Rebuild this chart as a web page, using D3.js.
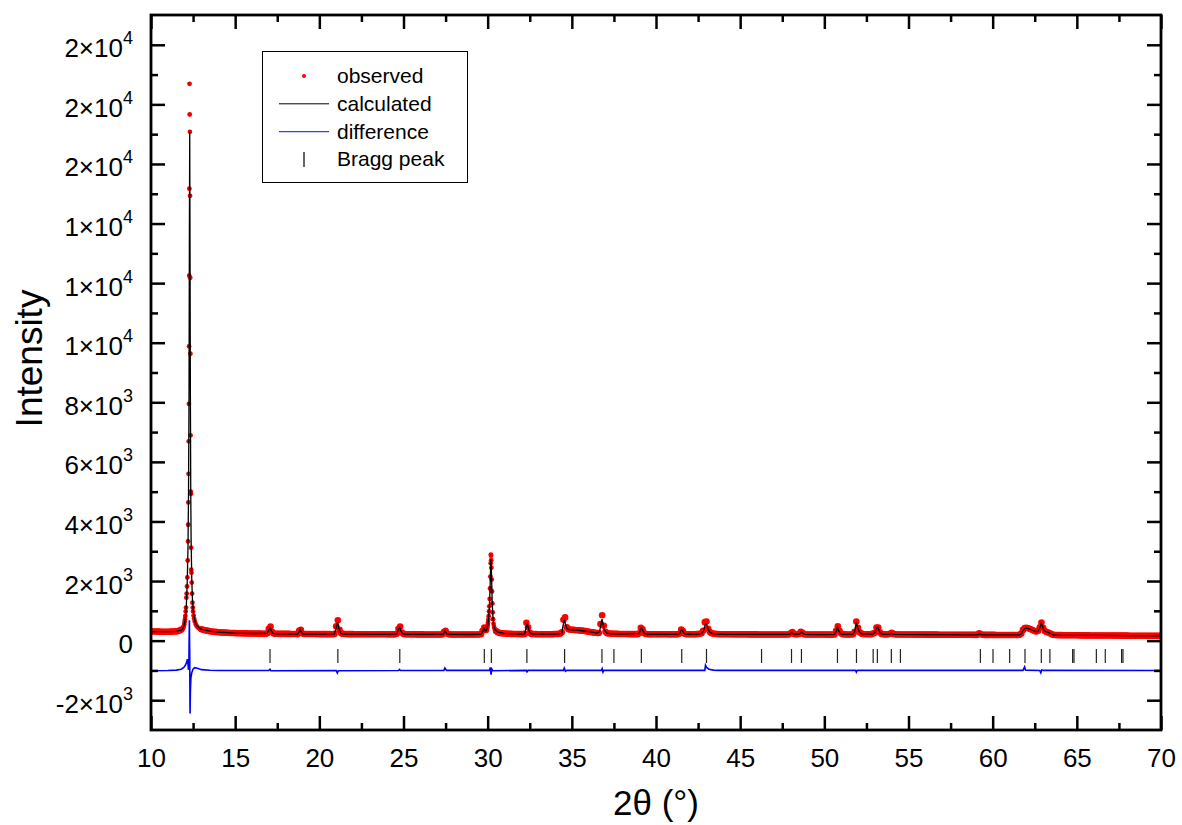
<!DOCTYPE html>
<html><head><meta charset="utf-8">
<script src="https://cdn.jsdelivr.net/npm/d3@7"></script>
<style>
body{margin:0;background:#fff}
svg{display:block}
text{font-family:"Liberation Sans",Arial,sans-serif;fill:#000}
</style>
</head><body>
<svg id="chart" width="1182" height="825"></svg>
<script>
// ---------- data ----------
const xDomain = [10, 70];
const yDomain = [-3000, 21000];
const xTicks = [10, 15, 20, 25, 30, 35, 40, 45, 50, 55, 60, 65, 70];
const xMinorTicks = [12.5, 17.5, 22.5, 27.5, 32.5, 37.5, 42.5, 47.5, 52.5, 57.5, 62.5, 67.5];
const yTicks = [-2000, 0, 2000, 4000, 6000, 8000, 10000, 12000, 14000, 16000, 18000, 20000];
const yMinorTicks = [-1000, 1000, 3000, 5000, 7000, 9000, 11000, 13000, 15000, 17000, 19000];
const yTickLabels = ["-2×10|3", "0", "2×10|3", "4×10|3", "6×10|3", "8×10|3",
  "1×10|4", "1×10|4", "1×10|4", "2×10|4", "2×10|4", "2×10|4"];
const xTitle = "2θ (°)";
const yTitle = "Intensity";
const seriesNames = ["observed", "calculated", "difference", "Bragg peak"];

// observed scan, 0.1° steps from 10.0° to 70.0°
const observedStart = 10, observedStep = 0.1;
const observed = [
 310,308,306,305,303,302,300,300,299,298,
 298,300,302,305,308,312,320,338,370,420,
 640,1440,3330,17660,2280,980,650,500,430,395,
 380,365,350,338,326,316,307,300,293,287,
 282,278,274,270,267,264,261,258,256,254,
 252,250,248,246,245,244,243,242,241,240,
 239,238,237,236,235,234,233,232,232,245,
 400,470,285,235,230,229,228,228,227,226,
 226,225,225,224,224,223,222,215,330,360,
 240,222,222,221,221,220,220,220,219,219,
 219,218,218,218,217,217,217,216,216,225,
 480,680,360,250,225,220,219,218,218,217,
 217,216,216,216,215,215,215,215,214,214,
 214,214,213,213,213,213,212,212,212,212,
 211,211,211,211,211,211,230,400,470,270,
 225,212,211,210,210,210,210,210,209,209,
 209,209,208,208,208,208,208,207,207,207,
 207,207,207,206,290,330,240,210,206,206,
 206,206,206,205,205,205,205,205,205,205,
 205,205,206,207,208,210,215,330,440,360,
 520,1150,2850,950,420,320,280,260,250,245,
 240,236,232,229,226,224,222,221,220,219,
 218,218,225,600,450,260,225,220,218,217,
 216,216,216,215,215,215,215,215,216,218,
 220,222,225,230,280,700,780,450,380,370,
 365,360,355,350,345,340,335,330,320,310,
 300,290,280,270,262,255,255,560,850,500,
 300,250,240,236,233,230,228,226,224,223,
 222,221,220,219,219,218,218,217,217,216,
 245,430,380,245,220,216,215,215,214,214,
 214,213,213,213,212,212,212,212,211,211,
 211,211,211,212,240,370,320,230,215,213,
 213,213,214,215,217,220,230,250,330,620,
 640,400,290,250,235,225,220,218,216,215,
 214,213,213,212,212,212,211,211,211,210,
 210,210,210,210,210,209,209,209,209,209,
 209,208,208,208,208,208,208,207,207,207,
 207,207,206,206,206,206,206,206,205,210,
 250,285,225,210,210,225,300,260,215,208,
 206,205,205,205,205,204,204,204,204,204,
 204,203,203,203,203,203,206,330,480,330,
 240,215,210,208,207,207,208,215,300,640,
 430,280,235,220,215,212,212,213,218,235,
 265,440,440,280,225,212,210,209,212,230,
 265,225,210,207,207,206,206,205,205,205,
 204,204,204,203,203,203,203,202,202,202,
 202,201,201,201,200,200,200,200,199,199,
 199,199,198,198,198,198,197,197,197,197,
 196,196,196,196,195,195,195,195,194,194,
 194,194,245,215,195,194,193,193,193,192,
 192,192,191,191,191,191,190,190,190,190,
 190,190,190,189,189,189,195,240,360,420,
 430,415,395,370,345,320,305,330,450,610,
 430,320,290,275,250,215,195,188,186,185,
 184,183,182,181,181,180,180,179,179,178,
 178,177,177,176,176,175,175,175,174,174,
 173,173,173,172,172,172,171,171,171,170,
 170,170,169,169,169,168,168,168,167,167,
 167,166,166,166,165,165,165,165,164,164,
 164,163,163,163,162,162,162,162,161,161,
 161
];

// finer observed points across the two strongest reflections [2θ, intensity]
const observedFine = [
 [11.84,380],[11.86,390],[11.88,405],[11.90,420],[11.92,445],[11.94,470],[11.96,505],[11.98,560],
 [12.00,640],[12.02,720],[12.04,830],[12.06,980],[12.08,1110],[12.10,1440],[12.12,1580],[12.14,1820],
 [12.16,2120],[12.18,2690],[12.20,3330],[12.21,3890],[12.22,4640],[12.23,5600],[12.24,6690],[12.25,7950],
 [12.26,9880],[12.27,12250],[12.28,15170],[12.29,18690],[12.30,17660],[12.31,17080],[12.32,14930],
 [12.33,12180],[12.34,9630],[12.35,6890],[12.36,5000],[12.37,4930],[12.38,3120],[12.39,2380],
 [12.40,2280],[12.42,1950],[12.44,1580],[12.46,1275],[12.48,1110],[12.50,980],[12.53,840],[12.56,740],
 [12.60,650],[12.65,560],[12.70,500],[12.76,455],[12.82,420],[12.90,395],
 [29.96,400],[29.98,450],[30.00,520],[30.02,600],[30.04,700],[30.06,820],[30.08,980],[30.10,1150],
 [30.12,1400],[30.14,1750],[30.16,2150],[30.18,2600],[30.19,2890],[30.20,2850],[30.21,2700],
 [30.22,2450],[30.24,2050],[30.26,1650],[30.28,1250],[30.30,950],[30.32,720],[30.35,560],
 [30.38,460],[30.42,390],[30.46,340]
];
const fineWindows = [[11.84, 12.90], [29.96, 30.46]];

// calculated profile [2θ, intensity]
const calculated = [
 [10.0,305],[11.0,300],[11.5,312],[11.8,355],[11.9,400],[12.0,600],[12.05,800],[12.1,1200],
 [12.15,1900],[12.2,3200],[12.23,5000],[12.26,8500],[12.28,13500],[12.30,17080],[12.32,13000],
 [12.34,8200],[12.36,5200],[12.38,3500],[12.42,2100],[12.46,1400],[12.52,950],[12.6,680],
 [12.7,520],[12.85,430],[13.0,380],[13.5,318],[14.0,282],[15.0,252],[16.0,239],[16.9,240],
 [17.0,360],[17.07,430],[17.15,330],[17.25,245],[17.4,230],[18.0,226],[18.6,220],[18.7,212],
 [18.8,300],[18.85,380],[18.92,300],[19.0,230],[19.1,222],[20.0,219],[20.9,225],[21.0,430],
 [21.09,615],[21.17,400],[21.27,245],[21.4,220],[22.0,217],[24.0,211],[24.6,225],[24.7,380],
 [24.77,440],[24.85,320],[24.95,230],[25.1,212],[27.0,207],[27.35,215],[27.46,320],[27.56,230],
 [27.7,208],[29.0,205],[29.6,215],[29.7,300],[29.78,420],[29.86,330],[29.9,320],[29.95,380],
 [30.0,500],[30.05,680],[30.1,1100],[30.15,1900],[30.19,2720],[30.23,2200],[30.27,1300],
 [30.31,800],[30.36,500],[30.45,350],[30.6,285],[31.0,240],[32.0,218],[32.2,225],[32.3,480],
 [32.35,560],[32.42,420],[32.5,270],[32.6,230],[33.0,216],[34.0,220],[34.4,240],[34.48,500],
 [34.55,700],[34.62,560],[34.7,420],[34.8,370],[35.0,362],[35.5,340],[36.0,300],[36.5,255],
 [36.65,300],[36.73,550],[36.79,720],[36.85,560],[36.92,380],[37.05,260],[37.3,228],[38.0,222],
 [39.0,240],[39.08,380],[39.13,420],[39.2,360],[39.3,240],[39.45,217],[40.0,214],[41.0,211],
 [41.4,230],[41.48,340],[41.53,360],[41.6,300],[41.7,228],[41.85,214],[42.5,222],[42.7,245],
 [42.8,300],[42.88,450],[42.95,560],[43.02,520],[43.1,380],[43.2,280],[43.35,236],[43.6,220],
 [44.0,214],[46.0,209],[47.9,207],[48.0,240],[48.05,270],[48.12,240],[48.2,215],[48.5,212],
 [48.58,250],[48.64,285],[48.72,245],[48.85,210],[50.0,204],[50.6,208],[50.7,300],[50.78,450],
 [50.86,320],[50.95,230],[51.1,212],[51.7,215],[51.8,300],[51.9,600],[51.98,440],[52.08,290],
 [52.2,230],[52.8,217],[52.9,230],[53.0,270],[53.08,400],[53.15,450],[53.22,380],[53.32,250],
 [53.5,212],[53.9,215],[53.98,255],[54.06,220],[54.2,207],[56.0,201],[59.0,194],[59.15,205],
 [59.22,240],[59.3,205],[59.45,194],[61.0,190],[61.6,196],[61.7,230],[61.8,330],[61.9,400],
 [62.0,420],[62.2,390],[62.4,340],[62.6,300],[62.7,320],[62.8,420],[62.89,590],[62.96,470],
 [63.05,340],[63.2,290],[63.33,270],[63.45,230],[63.6,195],[64.0,184],[66.0,173],[68.0,167],
 [70.0,161]
];

// difference curve (observed - calculated, offset) [2θ, intensity]
const difference = [
 [10.0,-1010],[11.0,-1005],[11.5,-990],[11.8,-960],[11.95,-900],[12.05,-820],[12.12,-720],
 [12.16,-620],[12.19,-700],[12.22,-980],[12.25,-850],[12.28,680],[12.30,-600],[12.32,-2450],
 [12.34,-1700],[12.37,-1250],[12.42,-1080],[12.5,-950],[12.6,-910],[12.75,-930],[13.0,-975],
 [13.5,-995],[14.0,-1005],[17.0,-1000],[17.07,-960],[17.12,-1010],[21.0,-1005],[21.07,-1085],
 [21.12,-1010],[24.7,-1005],[24.76,-965],[24.82,-1005],[27.4,-1000],[27.46,-920],[27.55,-1000],
 [30.1,-1000],[30.16,-900],[30.2,-1140],[30.25,-960],[30.3,-1010],[32.3,-1000],[32.34,-1050],
 [32.4,-1000],[34.5,-1000],[34.55,-920],[34.62,-1030],[34.7,-1000],[36.75,-1000],[36.8,-940],
 [36.85,-1060],[36.9,-1000],[42.9,-1000],[42.94,-830],[43.0,-900],[43.15,-960],[43.4,-990],
 [43.7,-1000],[51.85,-1000],[51.9,-1060],[51.95,-1000],[61.8,-1000],[61.9,-880],[61.95,-990],
 [62.8,-1000],[62.86,-1080],[62.92,-980],[63.0,-1000],[70.0,-1005]
];

// Bragg reflection positions (2θ)
const braggPeaks = [12.29, 17.07, 21.10, 24.78, 29.80, 30.22, 32.33, 34.57, 36.79, 37.50, 39.13,
 41.53, 43.00, 46.27, 48.05, 48.64, 50.78, 51.91, 52.90, 53.15, 53.98, 54.52, 59.27, 60.02,
 61.01, 61.92, 62.89, 63.40, 64.75, 64.83, 66.16, 66.69, 67.66, 67.74];
const braggLevel = [-280, -750];

// ---------- drawing ----------
const plot = {left: 151, right: 1161, top: 15, bottom: 730};
const svg = d3.select("#chart");
const x = d3.scaleLinear().domain(xDomain).range([plot.left, plot.right]);
const y = d3.scaleLinear().domain(yDomain).range([plot.bottom, plot.top]);

svg.append("defs").append("clipPath").attr("id", "clip")
  .append("rect").attr("x", plot.left).attr("y", plot.top)
  .attr("width", plot.right - plot.left).attr("height", plot.bottom - plot.top);

const g = svg.append("g").attr("clip-path", "url(#clip)");

const obsGrid = observed.map((v, i) => [observedStart + i * observedStep, v])
  .filter(d => !fineWindows.some(w => d[0] >= w[0] && d[0] <= w[1]));
g.append("g").selectAll("circle").data(obsGrid).join("circle")
  .attr("cx", d => x(d[0])).attr("cy", d => y(d[1])).attr("r", 3.3)
  .attr("fill", "#ff0000");
g.append("g").selectAll("circle").data(observedFine).join("circle")
  .attr("cx", d => x(d[0])).attr("cy", d => y(d[1])).attr("r", 2.4)
  .attr("fill", "#ee0000");

const line = d3.line().x(d => x(d[0])).y(d => y(d[1]));
g.append("path").datum(calculated).attr("d", line)
  .attr("fill", "none").attr("stroke", "#000").attr("stroke-width", 1.3);

g.append("g").selectAll("line").data(braggPeaks).join("line")
  .attr("x1", d => x(d)).attr("x2", d => x(d))
  .attr("y1", y(braggLevel[0])).attr("y2", y(braggLevel[1]))
  .attr("stroke", "#222").attr("stroke-width", 1.2);

g.append("path").datum(difference).attr("d", line)
  .attr("fill", "none").attr("stroke", "#0000ff").attr("stroke-width", 1.6);

// axes
function styleAxis(sel) {
  sel.select(".domain").remove();
  sel.selectAll(".tick line").attr("stroke", "#000").attr("stroke-width", 2.5);
}
const majorLen = 14, minorLen = 7;
svg.append("g").attr("transform", `translate(0,${plot.bottom})`)
  .call(d3.axisBottom(x).tickValues(xTicks).tickSize(-majorLen).tickSizeOuter(0).tickPadding(19))
  .call(styleAxis)
  .call(s => s.selectAll("text").attr("font-size", 26).attr("font-family", "Liberation Sans, Arial, sans-serif").attr("fill", "#000"));
svg.append("g").attr("transform", `translate(0,${plot.bottom})`)
  .call(d3.axisBottom(x).tickValues(xMinorTicks).tickSize(-minorLen).tickSizeOuter(0).tickFormat(""))
  .call(styleAxis);
svg.append("g").attr("transform", `translate(0,${plot.top})`)
  .call(d3.axisTop(x).tickValues(xTicks).tickSize(-majorLen).tickSizeOuter(0).tickFormat(""))
  .call(styleAxis);
svg.append("g").attr("transform", `translate(0,${plot.top})`)
  .call(d3.axisTop(x).tickValues(xMinorTicks).tickSize(-minorLen).tickSizeOuter(0).tickFormat(""))
  .call(styleAxis);

const leftAxis = svg.append("g").attr("transform", `translate(${plot.left},0)`)
  .call(d3.axisLeft(y).tickValues(yTicks).tickSize(-majorLen).tickSizeOuter(0).tickPadding(18))
  .call(styleAxis);
leftAxis.selectAll(".tick text").each(function(d, i) {
  const t = d3.select(this);
  const parts = yTickLabels[i].split("|");
  t.text(null).attr("font-size", 26).attr("dy", null).attr("y", 12)
   .attr("font-family", "Liberation Sans, Arial, sans-serif").attr("fill", "#000");
  t.append("tspan").text(parts[0]);
  if (parts[1]) t.append("tspan").attr("dy", -13).attr("font-size", 18).text(parts[1]);
});
svg.append("g").attr("transform", `translate(${plot.left},0)`)
  .call(d3.axisLeft(y).tickValues(yMinorTicks).tickSize(-minorLen).tickSizeOuter(0).tickFormat(""))
  .call(styleAxis);
svg.append("g").attr("transform", `translate(${plot.right},0)`)
  .call(d3.axisRight(y).tickValues(yTicks).tickSize(-majorLen).tickSizeOuter(0).tickFormat(""))
  .call(styleAxis);
svg.append("g").attr("transform", `translate(${plot.right},0)`)
  .call(d3.axisRight(y).tickValues(yMinorTicks).tickSize(-minorLen).tickSizeOuter(0).tickFormat(""))
  .call(styleAxis);

svg.append("rect").attr("x", plot.left).attr("y", plot.top)
  .attr("width", plot.right - plot.left).attr("height", plot.bottom - plot.top)
  .attr("fill", "none").attr("stroke", "#000").attr("stroke-width", 2.8);

// titles
svg.append("text").attr("x", (plot.left + plot.right) / 2).attr("y", 815)
  .attr("text-anchor", "middle").attr("font-size", 35).text(xTitle);
svg.append("text").attr("transform", `translate(42,${(plot.top + plot.bottom) / 2 - 14}) rotate(-90)`)
  .attr("text-anchor", "middle").attr("font-size", 37).text(yTitle);

// legend
const lg = svg.append("g");
lg.append("rect").attr("x", 262.5).attr("y", 51.5).attr("width", 205).attr("height", 131)
  .attr("fill", "#fff").attr("stroke", "#000").attr("stroke-width", 1);
const rowY = i => 76 + i * 27.8;
const symX = 304, textX = 337;
seriesNames.forEach((name, i) => {
  lg.append("text").attr("x", textX).attr("y", rowY(i) + 7).attr("font-size", 21).text(name);
});
lg.append("circle").attr("cx", symX).attr("cy", rowY(0)).attr("r", 2).attr("fill", "#ff0000");
lg.append("line").attr("x1", symX - 25).attr("x2", symX + 25).attr("y1", rowY(1)).attr("y2", rowY(1))
  .attr("stroke", "#000").attr("stroke-width", 1);
lg.append("line").attr("x1", symX - 25).attr("x2", symX + 25).attr("y1", rowY(2)).attr("y2", rowY(2))
  .attr("stroke", "#3344ee").attr("stroke-width", 1.2);
lg.append("line").attr("x1", symX).attr("x2", symX).attr("y1", rowY(3) - 7.5).attr("y2", rowY(3) + 7.5)
  .attr("stroke", "#000").attr("stroke-width", 1.2);
</script>
</body></html>
